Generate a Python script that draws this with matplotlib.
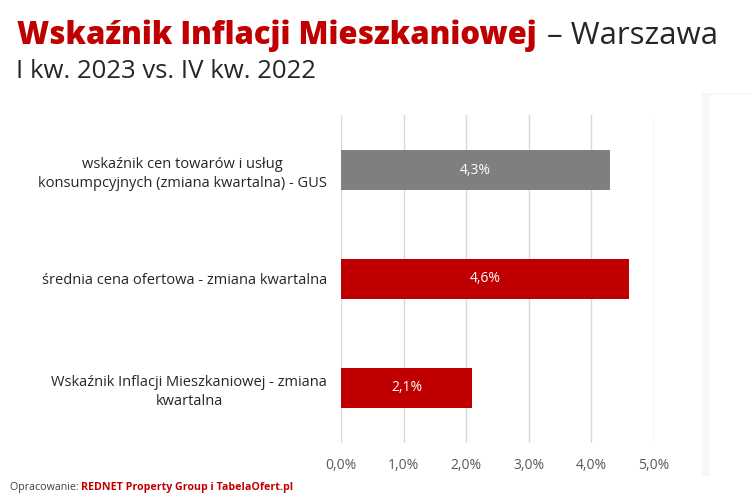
import matplotlib
matplotlib.use("Agg")
import matplotlib.pyplot as plt
from matplotlib.patches import Rectangle

# data
categories = [
    "wskaźnik cen towarów i usług\nkonsumpcyjnych (zmiana kwartalna) - GUS",
    "średnia cena ofertowa - zmiana kwartalna",
    "Wskaźnik Inflacji Mieszkaniowej - zmiana\nkwartalna",
]
values = [4.3, 4.6, 2.1]
bar_colors = ["#7f7f7f", "#c00000", "#c00000"]
xticks = [0, 1, 2, 3, 4, 5]
xtick_labels = ["0,0%", "1,0%", "2,0%", "3,0%", "4,0%", "5,0%"]

RED = "#c00000"
plt.rcParams["font.family"] = ["Open Sans", "DejaVu Sans"]

W, H = 750, 499
fig = plt.figure(figsize=(7.5, 4.99), dpi=100)
fig.patch.set_facecolor("white")

# axes placed by pixel box
x0, x1 = 341, 654
y_top, y_bot = 115, 443
ax = fig.add_axes([x0 / W, 1 - y_bot / H, (x1 - x0) / W, (y_bot - y_top) / H])

ypos = list(range(len(categories)))
ax.barh(ypos, values, height=0.367, color=bar_colors, zorder=3)
for y, v in zip(ypos, values):
    ax.text(v / 2, y, f"{v:.1f}%".replace(".", ","), ha="center", va="center",
            color="white", fontsize=10, zorder=4)

ax.set_xlim(0, 5)
ax.set_ylim(2.505, -0.505)
ax.set_xticks(xticks)
ax.set_xticklabels(xtick_labels, fontsize=10, color="#595959")
ax.set_yticks(ypos)
ax.set_yticklabels(categories, fontsize=10.5, color="#262626", multialignment="center",
                   linespacing=1.35)
ax.tick_params(axis="both", length=0)
ax.tick_params(axis="x", pad=11)
ax.tick_params(axis="y", pad=10)
ax.grid(axis="x", color="#d9d9d9", linewidth=1, zorder=0)
for s in ax.spines.values():
    s.set_visible(False)

# faint panel on the right edge
fig.patches.append(Rectangle((702 / W, 1 - 476 / H), 60 / W, (476 - 93) / H,
                             transform=fig.transFigure, facecolor="#f7f7f7",
                             edgecolor="none", zorder=0))
fig.patches.append(Rectangle((710 / W, 1 - 476 / H), 50 / W, (476 - 95) / H,
                             transform=fig.transFigure, facecolor="white",
                             edgecolor="none", zorder=1))

# title pieces
r = fig.canvas.get_renderer()
t1 = fig.text(17 / W, 1 - 44 / H, "Wskaźnik Inflacji Mieszkaniowej", color=RED,
              fontsize=22.3, fontweight="heavy", va="baseline")
bb = t1.get_window_extent(r)
fig.text(bb.x1 / W + 10 / W, 1 - 44 / H, "– Warszawa", color="#262626",
         fontsize=22.5, va="baseline")
fig.text(16 / W, 1 - 78 / H, "I kw. 2023 vs. IV kw. 2022", color="#262626",
         fontsize=18.5, va="baseline")

# footer
f1 = fig.text(10 / W, 1 - 490 / H, "Opracowanie: ", color="#404040",
              fontsize=7.7, va="baseline")
bb = f1.get_window_extent(r)
fig.text(bb.x1 / W, 1 - 490 / H, "REDNET Property Group i TabelaOfert.pl",
         color=RED, fontsize=7.7, fontweight="bold", va="baseline")

plt.savefig("out.png", dpi=100)
